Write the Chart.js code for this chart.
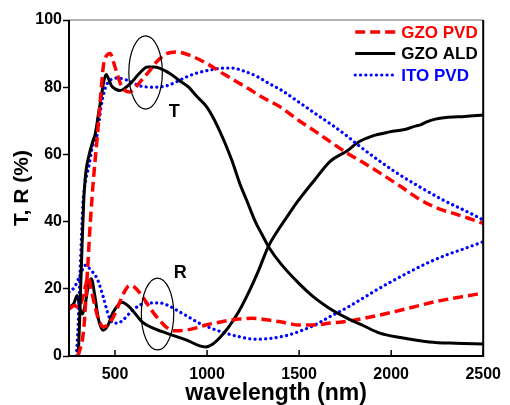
<!DOCTYPE html>
<html>
<head>
<title>T, R spectra</title>
<script src="https://cdnjs.cloudflare.com/ajax/libs/Chart.js/4.4.0/chart.umd.min.js"></script>
<style>
    body { margin: 0; background: #fff; }
    .chart-container { width: 510px; height: 405px; position: relative; }
</style>
</head>
<body>
<div class="chart-container"><canvas id="myChart"></canvas></div>
<script>
const xTicks = [500, 1000, 1500, 2000, 2500];
const yTicks = [0, 20, 40, 60, 80, 100];

// transmittance
const gzoPvdT_wl = [300,330,350,366,382,403,420,436,457,473,500,530,555,580,620,650,690,725,780,833,900,1000,1100,1224,1300,1401,1500,1584,1650,1760,1850,1938,2050,2152,2250,2335,2420,2500];
const gzoPvdT    = [0,8,25,40,52,65,76,86,89.6,90,86,81,79,78.6,80.5,82.5,85,87.5,90,90.5,89.6,87,83.6,79.6,77,74,70,67,64.5,60.4,57.5,54.5,50.5,46.7,44,42.5,41,39.5];

const gzoAldT_wl = [300,306,312,318,323,330,340,360,380,392,410,425,440,452,465,480,500,527,560,591,630,677,710,741,800,849,900,940,1000,1060,1133,1180,1214,1262,1300,1340,1400,1492,1580,1653,1707,1760,1850,1938,2050,2206,2350,2500];
const gzoAldT    = [0,8,18,28,36,46,54,60,64,66,72,77,82,83.8,82.5,80.5,79.5,79,80,81.5,84,86,86,85.7,84,82,80,77.5,74,68,58.5,51,46.5,40,36,32,27.5,22,17.5,14.6,12.8,11.3,9,6.8,5.5,4.2,3.8,3.6];

const itoPvdT_wl = [290,300,310,318,325,340,360,376,403,430,457,490,516,565,634,704,779,830,886,950,1026,1090,1133,1200,1278,1340,1401,1500,1584,1680,1760,1815,1920,2030,2150,2297,2400,2500];
const itoPvdT    = [0,10,25,36,45,52,57,62,66,76,81,82.5,82.7,82.1,80.4,80,80.4,81.5,83,84.3,85.2,85.7,85.7,84.8,83,81,79.2,75.5,72.3,68.7,65.5,63,58.7,54.5,50.5,46,43.3,40.5];

// reflectance
const gzoPvdR_wl = [250,280,300,320,340,355,370,390,410,436,460,490,511,550,580,610,650,700,741,780,820,886,950,1000,1080,1170,1250,1332,1420,1500,1580,1670,1760,1850,1938,2050,2150,2250,2380,2500];
const gzoPvdR    = [14,15,14.5,16.5,21,23.5,20,15,11,8.7,9.2,11.5,14,19,21,20.3,17.6,13.5,10.7,8.5,7.5,7.7,8.5,9.3,10.2,11,11.2,10.7,10,9.2,9.2,9.8,10.3,11.2,12.2,13.6,15,16.3,17.6,18.7];

const gzoAldR_wl = [250,275,295,310,323,340,355,371,390,410,436,460,490,537,580,650,720,779,886,960,993,1030,1070,1117,1170,1224,1280,1332,1380,1423,1492,1584,1670,1760,1815,1900,1992,2080,2136,2160,2190,2240,2297,2400,2500];
const gzoAldR    = [14.5,15.5,18,14,12.5,16,21,23,18,11,7.7,9,13,16,14.5,10,8,6.8,4.8,3,2.7,3.5,5.5,8.6,13,18.7,25.5,32.5,37,40.5,46,52.4,58,61,63.4,65.5,66.7,67.5,68.5,68.8,69.6,70.5,71,71.3,71.7];

const itoPvdR_wl = [250,280,310,339,370,403,436,465,490,515,543,597,672,741,790,833,900,956,1020,1100,1170,1262,1340,1439,1510,1584,1670,1760,1850,1938,2030,2120,2210,2297,2400,2500];
const itoPvdR    = [19,20.5,24,27,25.5,23,17.6,12,9.8,9.8,10.7,13.7,15.8,15.8,15,13.7,11.6,9.8,8.3,6.8,5.8,5,5.2,6.2,7.5,9.2,11.8,14.4,17.3,20.2,23,25.6,28,30,32,34];

// ellipses and the T / R marks, in data units
const ellipses = [
    { wl: 666, val: 84.4, dwl: 91, dval: 10.9 },
    { wl: 731, val: 12.5, dwl: 88, dval: 10.7 }
];
const marks = [
    { text: 'T', wl: 822, val: 72.6 },
    { text: 'R', wl: 854, val: 24.7 }
];

const FONT = "'Liberation Sans', Arial, sans-serif";

function pts(xs, ys) {
    return xs.map((x, i) => ({ x: x, y: ys[i] }));
}

const styles = {
    red:   { borderColor: '#ff0000', borderWidth: 3.5, borderDash: [10, 5] },
    black: { borderColor: '#000000', borderWidth: 3, borderDash: [] },
    blue:  { borderColor: '#0000ff', borderWidth: 3.2, borderDash: [0.1, 5.2], borderCapStyle: 'round' }
};

function ds(label, data, st) {
    return Object.assign({
        label: label,
        data: data,
        pointRadius: 0,
        fill: false,
        cubicInterpolationMode: 'monotone'
    }, st);
}

const datasets = [
    ds('GZO PVD', pts(gzoPvdT_wl, gzoPvdT), styles.red),
    ds('GZO ALD', pts(gzoAldT_wl, gzoAldT), styles.black),
    ds('ITO PVD', pts(itoPvdT_wl, itoPvdT), styles.blue),
    ds('', pts(gzoPvdR_wl, gzoPvdR), styles.red),
    ds('', pts(gzoAldR_wl, gzoAldR), styles.black),
    ds('', pts(itoPvdR_wl, itoPvdR), styles.blue)
];

const extras = {
    id: 'extras',
    afterDatasetsDraw(chart) {
        const { ctx, chartArea: a, scales: { x, y } } = chart;
        ctx.save();

        // inward x ticks
        ctx.strokeStyle = '#000';
        ctx.lineWidth = 1.5;
        xTicks.forEach(v => {
            const px = x.getPixelForValue(v);
            ctx.beginPath();
            ctx.moveTo(px, a.bottom);
            ctx.lineTo(px, a.bottom - 6);
            ctx.stroke();
        });

        // frame
        ctx.lineWidth = 1.5;
        ctx.strokeStyle = '#999';
        ctx.beginPath();
        ctx.moveTo(a.left, a.top);
        ctx.lineTo(a.right, a.top);
        ctx.stroke();
        ctx.strokeStyle = '#000';
        ctx.lineWidth = 2;
        ctx.beginPath();
        ctx.moveTo(a.right, a.top);
        ctx.lineTo(a.right, a.bottom);
        ctx.lineTo(a.left, a.bottom);
        ctx.lineTo(a.left, a.top);
        ctx.stroke();

        // ellipses
        ctx.lineWidth = 1.2;
        ellipses.forEach(e => {
            const cx = x.getPixelForValue(e.wl);
            const cy = y.getPixelForValue(e.val);
            const rx = x.getPixelForValue(e.wl + e.dwl) - cx;
            const ry = cy - y.getPixelForValue(e.val + e.dval);
            ctx.beginPath();
            ctx.ellipse(cx, cy, rx, ry, 0, 0, Math.PI * 2);
            ctx.stroke();
        });

        // T and R
        ctx.fillStyle = '#000';
        ctx.font = 'bold 18px ' + FONT;
        ctx.textAlign = 'center';
        ctx.textBaseline = 'middle';
        marks.forEach(m => {
            ctx.fillText(m.text, x.getPixelForValue(m.wl), y.getPixelForValue(m.val));
        });

        // legend
        ctx.font = 'bold 17px ' + FONT;
        ctx.textAlign = 'left';
        chart.data.datasets.slice(0, 3).forEach((d, i) => {
            const ly = a.top + 12 + i * 21.5;
            ctx.save();
            ctx.strokeStyle = d.borderColor;
            ctx.lineWidth = d.borderWidth;
            ctx.setLineDash(d.borderDash);
            ctx.lineCap = d.borderCapStyle || 'butt';
            ctx.beginPath();
            ctx.moveTo(a.right - 128, ly);
            ctx.lineTo(a.right - 88, ly);
            ctx.stroke();
            ctx.restore();
            ctx.fillStyle = d.borderColor;
            ctx.fillText(d.label, a.right - 82, ly + 1);
        });

        ctx.restore();
    }
};

const ctx = document.getElementById('myChart');
new Chart(ctx, {
    type: 'line',
    data: { datasets: datasets },
    options: {
        responsive: true,
        maintainAspectRatio: false,
        animation: false,
        layout: { padding: { top: 20, right: 22, left: 0, bottom: 0 } },
        plugins: {
            legend: { display: false },
            tooltip: { enabled: false }
        },
        scales: {
            x: {
                type: 'linear',
                min: 250,
                max: 2500,
                afterBuildTicks: s => { s.ticks = xTicks.map(v => ({ value: v })); },
                afterFit: s => { s.height = 49; },
                grid: { display: false, drawTicks: false },
                border: { display: false },
                ticks: {
                    color: '#000',
                    padding: 9,
                    maxRotation: 0,
                    callback: v => String(v),
                    font: { family: FONT, size: 16, weight: 'bold' }
                },
                title: {
                    display: true,
                    text: 'wavelength (nm)',
                    color: '#000',
                    padding: 0,
                    font: { family: FONT, size: 23, weight: 'bold', lineHeight: 1 }
                }
            },
            y: {
                min: 0,
                max: 100,
                afterBuildTicks: s => { s.ticks = yTicks.map(v => ({ value: v })); },
                afterFit: s => { s.width = 69; },
                grid: { drawOnChartArea: false, drawTicks: true, tickLength: 6, tickWidth: 1.5, tickColor: '#000' },
                border: { display: false },
                ticks: {
                    color: '#000',
                    padding: 1,
                    callback: v => String(v),
                    font: { family: FONT, size: 16, weight: 'bold' }
                },
                title: {
                    display: true,
                    text: 'T, R (%)',
                    color: '#000',
                    padding: { top: 12, bottom: 0 },
                    font: { family: FONT, size: 21, weight: 'bold', lineHeight: 1 }
                }
            }
        }
    },
    plugins: [extras]
});
</script>
</body>
</html>
